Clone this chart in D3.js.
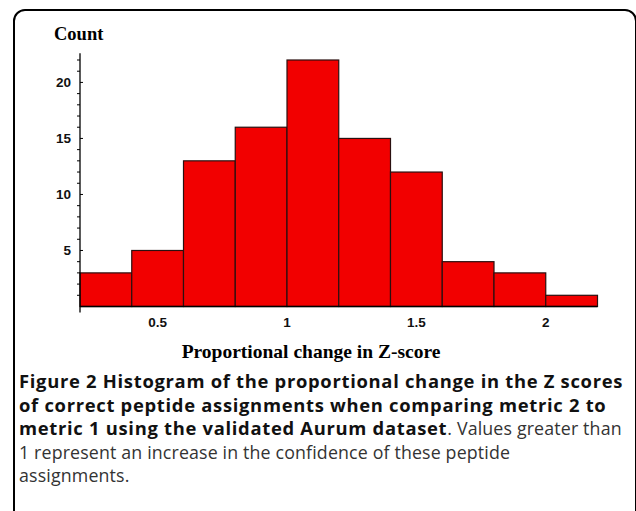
<!DOCTYPE html>
<html>
<head>
<meta charset="utf-8">
<script src="https://cdn.jsdelivr.net/npm/d3@7"></script>
<style>
  html, body { margin: 0; padding: 0; background: #fff; }
  svg { display: block; }
</style>
</head>
<body>
<script>
// ---- data ----
const binStarts = [0.2, 0.4, 0.6, 0.8, 1.0, 1.2, 1.4, 1.6, 1.8, 2.0];
const binWidth = 0.2;
const counts = [3, 5, 13, 16, 22, 15, 12, 4, 3, 1];
const xTicks = [0.5, 1, 1.5, 2];
const yTicks = [5, 10, 15, 20];
const yMinorTicks = d3.range(1, 23);
const yLabel = "Count";
const xLabel = "Proportional change in Z-score";
const captionLines = [
  [{t: "Figure 2 Histogram of the proportional change in the Z scores", b: true}],
  [{t: "of correct peptide assignments when comparing metric 2 to", b: true}],
  [{t: "metric 1 using the validated Aurum dataset", b: true}, {t: ". Values greater than", b: false}],
  [{t: "1 represent an increase in the confidence of these peptide", b: false}],
  [{t: "assignments.", b: false}]
];

const W = 636, H = 511;
const svg = d3.select("body").append("svg").attr("width", W).attr("height", H);

// frame
svg.append("rect")
  .attr("x", 14).attr("y", 10).attr("width", 622).attr("height", 560)
  .attr("rx", 11).attr("ry", 11)
  .attr("fill", "none").attr("stroke", "#000").attr("stroke-width", 2);

const x = d3.scaleLinear().domain([0.2, 2.2]).range([80, 597.5]);
const y = d3.scaleLinear().domain([0, 22]).range([306.5, 60]);

// bars
svg.append("g").selectAll("rect").data(counts).join("rect")
  .attr("x", (d, i) => x(binStarts[i]))
  .attr("width", (d, i) => x(binStarts[i] + binWidth) - x(binStarts[i]))
  .attr("y", d => y(d))
  .attr("height", d => y(0) - y(d))
  .attr("fill", "#f20000")
  .attr("stroke", "#2a1010").attr("stroke-width", 1.2);

// y axis line
svg.append("line").attr("x1", 80).attr("x2", 80)
  .attr("y1", y(22.6)).attr("y2", y(0) + 6)
  .attr("stroke", "#000").attr("stroke-width", 1.3);
// x axis line
svg.append("line").attr("x1", 80).attr("x2", x(2.2))
  .attr("y1", y(0)).attr("y2", y(0))
  .attr("stroke", "#000").attr("stroke-width", 1.3);

// minor ticks (left)
svg.append("g").selectAll("line").data(yMinorTicks.filter(v => v % 5 !== 0)).join("line")
  .attr("x1", 77).attr("x2", 80)
  .attr("y1", d => y(d)).attr("y2", d => y(d))
  .attr("stroke", "#000").attr("stroke-width", 1);
// major ticks (right)
svg.append("g").selectAll("line").data(yTicks).join("line")
  .attr("x1", 80).attr("x2", 83)
  .attr("y1", d => y(d)).attr("y2", d => y(d))
  .attr("stroke", "#000").attr("stroke-width", 1);

// y tick labels
svg.append("g").selectAll("text").data(yTicks).join("text")
  .attr("x", 71).attr("y", d => y(d))
  .attr("dy", "0.36em")
  .attr("text-anchor", "end")
  .attr("font-family", "'Liberation Sans', Arial, sans-serif")
  .attr("font-weight", "bold").attr("font-size", 13.5)
  .attr("fill", "#111")
  .text(d => d);

// x tick labels
svg.append("g").selectAll("text").data(xTicks).join("text")
  .attr("x", d => x(d)).attr("y", 327)
  .attr("text-anchor", "middle")
  .attr("font-family", "'Liberation Sans', Arial, sans-serif")
  .attr("font-weight", "bold").attr("font-size", 13.5)
  .attr("fill", "#111")
  .text(d => d);

// axis titles
svg.append("text").attr("x", 54).attr("y", 40)
  .attr("font-family", "'Liberation Serif', 'Times New Roman', serif")
  .attr("font-weight", "bold").attr("font-size", 18.5)
  .attr("fill", "#000").text(yLabel);
svg.append("text").attr("x", 311).attr("y", 358)
  .attr("text-anchor", "middle")
  .attr("font-family", "'Liberation Serif', 'Times New Roman', serif")
  .attr("font-weight", "bold").attr("font-size", 19.5)
  .attr("fill", "#000").text(xLabel);

// caption
const cap = svg.append("g");
captionLines.forEach((line, i) => {
  const t = cap.append("text")
    .attr("x", 19).attr("y", 388 + i * 23.5)
    .attr("font-family", "'Open Sans', sans-serif");
  line.forEach(seg => {
    t.append("tspan")
      .attr("font-weight", seg.b ? "bold" : "normal")
      .attr("font-size", seg.b ? 18.4 : 17.8)
      .attr("letter-spacing", seg.b ? 0.7 : 0.15)
      .attr("fill", seg.b ? "#111" : "#333")
      .text(seg.t);
  });
});
</script>
</body>
</html>
